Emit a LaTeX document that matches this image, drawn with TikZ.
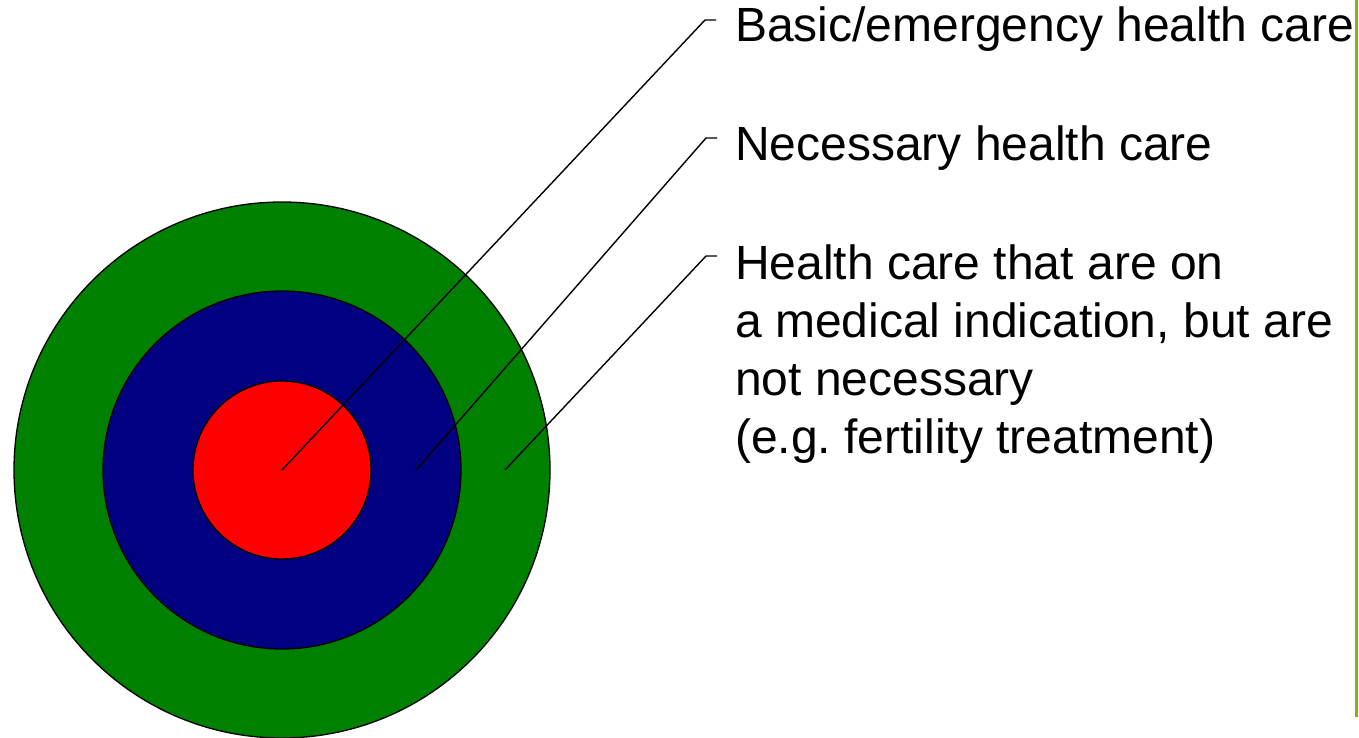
\documentclass[tikz,border=0pt]{standalone}
\usepackage{fontspec}
\setmainfont{Liberation Sans}
\usepackage{tikz}
\definecolor{ringgreen}{RGB}{0,128,0}
\definecolor{ringblue}{RGB}{0,0,128}
\definecolor{ringred}{RGB}{255,0,0}
\definecolor{rulegreen}{RGB}{118,184,22}
\tikzset{
    ring/.style={circle, draw=black, line width=1.3pt, inner sep=0pt},
    leader/.style={draw=black, line width=1.4pt},
    caption/.style={anchor=base west, inner sep=0pt, align=left, font=\fontsize{48}{58}\selectfont\frenchspacing}
}

\begin{document}
\begin{tikzpicture}[x=1pt, y=-1pt]
    \useasboundingbox (0,0) rectangle (1359,738);
    \clip (0,0) rectangle (1359,738);

    % Draw the three rings, outer first
    \node[ring, fill=ringgreen, minimum size=536pt] (Outer) at (282,470) {};
    \node[ring, fill=ringblue, minimum size=358pt] (Middle) at (282,470) {};
    \node[ring, fill=ringred, minimum size=178pt] (Inner) at (282,470) {};

    % Labels on the right
    \node[caption] (Basic) at (735,42) {Basic/emergency health care};
    \node[caption] (Necessary) at (735,161) {Necessary health care};
    \node[caption, anchor=north west] (Indication) at (735,244.5) {Health care that are on\\a medical indication, but are\\not necessary\\(e.g. fertility treatment)};

    % Define coordinates for the leader lines
    \coordinate (S1) at (Inner.center);
    \coordinate (S2) at (416,470);
    \coordinate (S3) at (505,470);
    \coordinate (E1) at (705,20);
    \coordinate (E2) at (706,138);
    \coordinate (E3) at (706,256);

    % Connect each ring to its label
    \foreach \i in {1, 2, 3}
        \draw[leader] (S\i) -- (E\i) -- ++(11,0);

    % Green rule at the right edge
    \draw[rulegreen, line width=2.5pt] (1356.5,0) -- (1356.5,717);
\end{tikzpicture}
\end{document}
